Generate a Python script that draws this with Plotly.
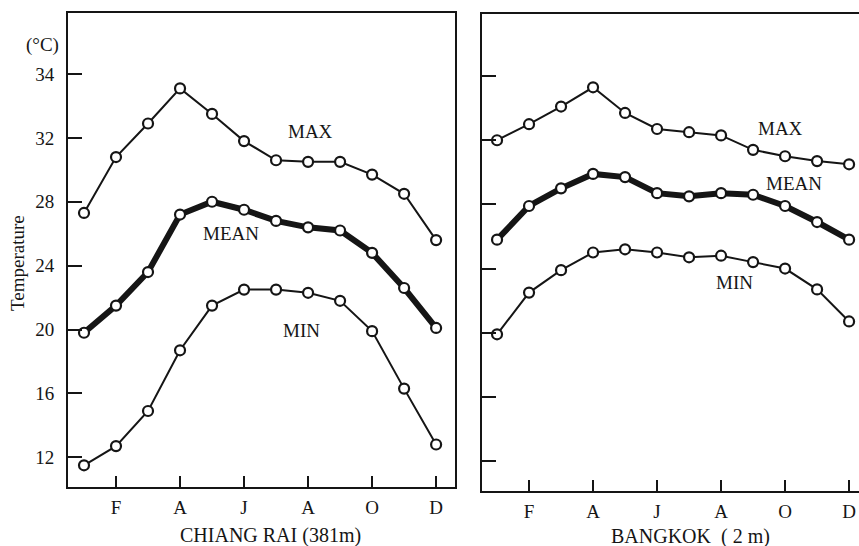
import plotly.graph_objects as go

# ---- data ----
months = list(range(1, 13))
month_tick_vals = [2, 4, 6, 8, 10, 12]
month_tick_text = ["F", "A", "J", "A", "O", "D"]
temp_tick_vals = [12, 16, 20, 24, 28, 32, 36]
temp_tick_text = ["12", "16", "20", "24", "28", "32", "34"]

chiang_rai_max = [27.3, 30.8, 32.9, 35.1, 33.5, 31.8, 30.6, 30.5, 30.5, 29.7, 28.5, 25.6]
chiang_rai_mean = [19.8, 21.5, 23.6, 27.2, 28.0, 27.5, 26.8, 26.4, 26.2, 24.8, 22.6, 20.1]
chiang_rai_min = [11.5, 12.7, 14.9, 18.7, 21.5, 22.5, 22.5, 22.3, 21.8, 19.9, 16.3, 12.8]

bangkok_max = [32.0, 33.0, 34.1, 35.3, 33.7, 32.7, 32.5, 32.3, 31.4, 31.0, 30.7, 30.5]
bangkok_mean = [25.8, 27.9, 29.0, 29.9, 29.7, 28.7, 28.5, 28.7, 28.6, 27.9, 26.9, 25.8]
bangkok_min = [19.9, 22.5, 23.9, 25.0, 25.2, 25.0, 24.7, 24.8, 24.4, 24.0, 22.7, 20.7]

station_titles = ["CHIANG RAI (381m)", "BANGKOK \u00a0( 2 m)"]

# ---- styles ----
INK = "#151515"
FONT = "Liberation Serif"
W, H = 859, 546


def px_x(p):
    return p / W


def px_y(p):
    return (H - p) / H


fig = go.Figure()


def add_series(values, xa, ya, thick):
    fig.add_trace(go.Scatter(
        x=months, y=values, xaxis=xa, yaxis=ya, mode="lines+markers",
        line=dict(color=INK, width=6 if thick else 2),
        marker=dict(symbol="circle", size=10, color="white",
                    line=dict(color=INK, width=2.2)),
        showlegend=False, hoverinfo="x+y",
    ))


for vals, thick in [(chiang_rai_max, False), (chiang_rai_mean, True), (chiang_rai_min, False)]:
    add_series(vals, "x", "y", thick)
for vals, thick in [(bangkok_max, False), (bangkok_mean, True), (bangkok_min, False)]:
    add_series(vals, "x2", "y2", thick)

common_x = dict(
    tickmode="array", tickvals=month_tick_vals, ticktext=month_tick_text,
    ticks="inside", ticklen=11, tickwidth=2, tickcolor=INK,
    showline=True, linecolor=INK, linewidth=2, mirror=True,
    showgrid=False, zeroline=False, fixedrange=True,
    tickfont=dict(family=FONT, size=19, color=INK),
    ticklabelstandoff=2,
)
common_y = dict(
    tickmode="array", tickvals=temp_tick_vals, ticktext=temp_tick_text,
    ticks="inside", ticklen=14, tickwidth=2, tickcolor=INK,
    showline=True, linecolor=INK, linewidth=2,
    showgrid=False, zeroline=False, fixedrange=True,
    tickfont=dict(family=FONT, size=19, color=INK),
)

fig.update_layout(
    width=W, height=H,
    margin=dict(l=0, r=0, t=0, b=0),
    paper_bgcolor="white", plot_bgcolor="white",
    xaxis=dict(common_x, domain=[px_x(68), px_x(455)], range=[0.5, 12.59], anchor="y"),
    yaxis=dict(common_y, domain=[px_y(487), px_y(13)], range=[10.14, 39.82],
               anchor="x", mirror=True, ticklabelstandoff=8),
    xaxis2=dict(common_x, domain=[px_x(482), 1.0], range=[0.53, 12.31], anchor="y2"),
    yaxis2=dict(common_y, domain=[px_y(491), px_y(14)], range=[10.13, 39.87],
                anchor="x2", mirror=False, showticklabels=False),
)

# series labels (text, axis refs, position in data units)
series_labels = [
    ("MAX", "x", "y", 8.06, 32.37),
    ("MEAN", "x", "y", 5.59, 26.04),
    ("MIN", "x", "y", 7.78, 19.91),
    ("MAX", "x2", "y2", 9.87, 32.76),
    ("MEAN", "x2", "y2", 10.28, 29.33),
    ("MIN", "x2", "y2", 8.41, 23.16),
]
for text, xr, yr, xv, yv in series_labels:
    fig.add_annotation(text=text, xref=xr, yref=yr, x=xv, y=yv, showarrow=False,
                       font=dict(family=FONT, size=19, color=INK),
                       xanchor="center", yanchor="middle")

fig.add_annotation(text=station_titles[0], xref="paper", yref="paper",
                   x=px_x(270), y=px_y(535), showarrow=False,
                   font=dict(family=FONT, size=20, color=INK),
                   xanchor="center", yanchor="middle")
fig.add_annotation(text=station_titles[1], xref="paper", yref="paper",
                   x=px_x(690), y=px_y(536), showarrow=False,
                   font=dict(family=FONT, size=20, color=INK),
                   xanchor="center", yanchor="middle")
fig.add_annotation(text="(\u00b0C)", xref="paper", yref="paper",
                   x=px_x(42), y=px_y(45), showarrow=False,
                   font=dict(family=FONT, size=19, color=INK),
                   xanchor="center", yanchor="middle")
fig.add_annotation(text="Temperature", xref="paper", yref="paper",
                   x=px_x(17), y=px_y(263), showarrow=False, textangle=-90,
                   font=dict(family=FONT, size=19, color=INK),
                   xanchor="center", yanchor="middle")

fig.write_html(
    "out.html",
    config={"displayModeBar": False, "staticPlot": True},
    post_script="document.body.style.margin='0';document.body.style.overflow='hidden';",
)
